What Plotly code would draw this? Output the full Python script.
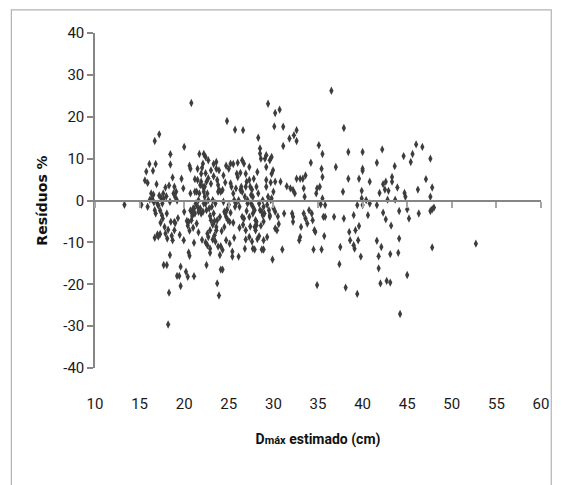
import plotly.graph_objects as go

# Dmáx estimado (cm)
dmax = [
    13.3, 15.2, 15.6, 15.75, 15.9, 16.1, 15.9, 16.15, 16.3, 16.5, 16.7, 16.8, 17.2, 16.7, 16.8, 16.55, 16.9, 16.7, 17.0, 17.35,
    17.4, 17.65, 17.55, 17.8, 17.7, 18.05, 17.9, 18.1, 18.2, 18.3, 18.4, 18.45, 18.45, 18.3, 17.9, 18.05, 18.4, 18.5, 18.7, 18.8,
    18.9, 18.9, 19.1, 19.2, 18.7, 19.2, 19.45, 19.6, 19.6, 19.7, 19.9, 19.95, 20.0, 20.0, 20.2, 20.4, 20.5, 20.6, 20.5, 20.6,
    20.8, 20.6, 20.7, 21.1, 21.1, 20.9, 21.1, 21.3, 21.2, 21.5, 21.7, 21.9, 22.1, 22.2, 22.4, 22.5, 22.6, 22.6, 22.7, 22.9,
    22.9, 23.2, 23.4, 23.6, 23.7, 23.9, 24.0, 24.1, 24.3, 24.1, 24.3, 23.6, 23.6, 23.9, 23.3, 24.7, 24.8, 25.0, 25.2, 25.5,
    24.7, 25.1, 25.4, 25.4, 26.1, 25.7, 26.6, 26.5, 26.7, 26.9, 27.3, 26.8, 26.9, 26.9, 27.3, 27.7, 27.9, 28.3, 28.5, 28.5,
    28.6, 28.7, 28.9, 28.9, 29.05, 29.2, 29.2, 29.4, 29.6, 29.8, 29.8, 29.96, 29.9, 29.3, 30.1, 30.2, 30.7, 31.1, 31.1, 31.0,
    30.2, 30.4, 30.6, 30.8, 30.2, 30.2, 31.2, 31.5, 31.8, 32.3, 32.6, 32.6, 31.9, 32.2, 32.1, 32.2, 32.2, 32.4, 32.6, 33.0,
    33.3, 33.6, 32.9, 33.0, 33.1, 33.4, 33.5, 33.4, 33.6, 33.8, 34.0, 34.2, 34.3, 34.4, 34.5, 34.6, 34.7, 34.8, 34.9, 34.9,
    35.1, 35.2, 35.3, 35.4, 35.4, 35.5, 35.5, 35.5, 35.7, 35.6, 35.8, 35.8, 36.5, 36.8, 37.0, 37.4, 37.5, 37.8, 37.9, 37.9,
    38.1, 38.4, 38.4, 38.5, 38.6, 39.0, 39.0, 39.1, 39.2, 39.4, 39.4, 39.5, 39.6, 39.6, 39.8, 39.9, 39.9, 40.0, 40.0, 40.0,
    40.0, 40.4, 40.6, 40.8, 40.8, 41.6, 41.6, 41.6, 41.8, 41.8, 41.9, 42.0, 42.1, 42.2, 42.3, 42.3, 42.5, 42.6, 42.6, 42.7,
    42.8, 42.9, 43.1, 43.1, 43.2, 43.3, 43.3, 43.6, 43.65, 43.9, 44.0, 44.1, 44.1, 44.2, 44.6, 44.7, 44.8, 45.0, 45.0, 45.2,
    45.4, 45.6, 46.0, 46.2, 46.3, 46.7, 47.1, 47.6, 47.6, 47.8, 47.6, 47.8, 48.0, 47.8, 52.7,
    21.5, 21.6, 21.7, 21.8, 21.9, 22.1, 22.2, 22.3, 22.4, 22.5, 21.8, 21.9, 22.1, 22.2, 22.3, 22.5, 22.6, 22.7, 22.8, 22.9,
    23.0, 23.1, 23.2, 23.3, 23.4, 23.5, 23.6, 23.7, 23.8, 23.9, 24.1, 24.3, 23.7, 23.8,
    20.7, 20.8, 20.9, 21.0, 21.2, 21.4,
    24.4, 24.5, 24.6, 24.7, 24.9, 25.1, 25.2, 25.3, 25.5, 25.6, 25.7, 25.8, 25.9, 26.0, 26.1, 26.2, 26.3, 26.4, 26.5, 26.5,
    26.7, 26.8, 26.9, 27.0, 27.1, 27.1, 27.3, 27.4, 27.5, 27.3,
    27.5, 27.7, 27.7, 27.9, 28.0, 28.1, 28.1, 27.7, 27.9, 28.0, 28.1, 28.3, 28.4, 28.5, 28.7, 28.8, 28.8, 28.9, 29.0, 29.2,
    29.2, 29.4, 29.6, 29.6, 29.7, 29.8, 30.0,
    17.1, 17.3, 17.5, 17.2, 16.4, 16.6, 17.0, 17.6, 18.2, 18.6, 19.0, 19.3, 19.5, 17.7, 18.0, 18.9, 19.0, 17.3, 17.1,
    20.3, 20.4, 20.7, 21.0, 21.4, 21.6, 21.2, 21.5, 22.0, 22.4, 22.7, 23.0, 23.3, 23.0, 22.7, 22.9, 23.5, 23.8, 22.4, 22.0,
    21.6, 23.2, 24.0, 24.2, 24.5, 24.8, 25.0, 25.2, 25.5, 25.8, 26.0, 26.3, 26.6, 27.0, 27.6, 27.8, 28.2, 28.4, 28.6, 28.9,
    29.3, 29.5, 29.7, 30.0, 30.5, 24.6, 24.4, 25.6, 26.2, 27.4, 27.6, 28.2,
]

# Resíduos %
residuos = [
    -1, -1, 4.8, 6.9, 4.2, 8.7, -1.5, 0.2, 1.7, 7.1, 14.2, 8.7, 15.8, -2.3, -3.1, 1.4, 3.9, -8.9, -8.1, -5.3,
    0.7, 1.7, -0.7, -6.3, -15.4, -15.4, -7.9, -9.1, -29.6, -22.0, -13.0, 11.05, 8.6, 3.6, 3.1, -3.1, -0.3, -5.1, 5.5, 1.7,
    -5.1, -7.1, 2.1, 0.0, -9.5, -18.0, -18.0, -15.8, -20.4, 5.2, 2.9, -9.5, -2.7, 12.8, -17.0, -18.2, -12.4, -13.2, -5.1, -7.2,
    23.3, 8.3, 7.6, -18.1, -10.1, -3.1, -1.9, -0.7, 2.1, 4.9, 11.1, 6.4, 8.8, 11.1, 10.4, -15.4, -10.7, -7.9, -8.7, -7.1,
    -11.5, -9.3, -8.3, -7.1, -19.8, -22.7, -13.0, -16.5, -16.5, -10.9, -11.8, 9.2, 7.6, 7.2, 8.7, 8.3, 19.0, 7.6, 8.8, 8.7,
    -9.5, -10.3, -12.2, -13.4, -13.4, 16.9, 16.8, 9.6, 8.8, 6.4, 8.0, -11.5, -7.1, -9.3, -8.7, -11.5, -11.7, 15.0, 12.4, 11.2,
    10.0, -11.7, -11.7, -9.5, 10.0, 10.8, 8.0, 23.1, 9.6, 10.4, 6.4, 7.2, -14.1, -8.7, 17.7, 20.9, 21.7, 17.6, 13.0, -11.7,
    -6.7, -7.1, -5.6, 4.5, 4.5, -2.7, -3.1, 3.4, 14.8, 15.6, 16.8, 14.2, 2.9, 2.5, -3.1, -3.9, -5.1, 1.7, 5.2, 5.2,
    5.2, 6.0, -9.5, -8.7, -6.3, 2.9, 0.9, -3.1, -4.3, -5.5, -2.3, 9.0, -3.1, -4.7, -11.7, -7.1, -7.5, 1.7, 2.9, -20.2,
    13.2, 3.3, -0.9, -11.7, 7.6, 11.1, 5.6, 0.5, -8.5, -3.9, -3.9, -1.1, 26.2, -3.9, 8.0, -15.2, -11.1, 2.1, 17.3, -4.3,
    -20.8, 11.6, 5.2, -7.5, -9.5, -3.5, -10.7, -11.5, -7.1, -1.1, -22.3, -9.5, 5.2, -6.1, -13.4, 0.5, 2.3, 7.6, 7.1, 11.6,
    -1.1, 0.1, -3.5, -0.7, 4.5, -1.1, -9.6, 9.0, -16.2, -13.3, 1.8, -19.8, -11.1, 12.2, 3.9, -2.9, 2.6, -4.5, 4.5, -19.2,
    0.2, 2.3, -19.6, -12.8, -6.0, 5.6, 4.5, 8.2, 0.2, 3.1, -12.5, -9.1, -2.5, -27.1, 10.6, 1.8, 0.9, -17.8, -2.1, -4.3,
    9.2, 11.1, 13.4, 2.6, -3.1, 12.8, 5.1, 10.0, 0.9, 3.1, -2.5, -2.1, -1.7, -11.2, -10.3,
    -1.5, 0.1, 1.7, 3.7, 4.5, 3.3, 2.1, 0.9, -0.7, -2.3, -1.9, -3.1, -2.7, -0.7, 3.3, 4.5, 1.7, 0.1, -1.9, -3.7,
    -4.7, -1.5, 0.1, -3.1, -4.9, -0.7, -6.3, -4.7, 2.1, 2.5, 2.1, 2.5, 4.9, 3.7,
    1.7, -4.7, -3.7, -1.9, -3.1, 2.1,
    -0.3, -2.7, -3.1, -3.9, -4.7, -5.1, 4.1, 3.3, 1.7, 0.1, -1.5, -0.7, 6.4, 5.6, 0.1, -1.5, 2.5, 3.3, 2.1, -3.9,
    -4.3, 0.9, 3.3, 4.5, 0.1, -0.7, 4.9, 3.3, 1.3, -3.9,
    -0.7, 0.9, -1.5, -2.3, -4.7, -5.1, -5.9, -3.1, -6.3, -7.1, 3.3, 1.7, -0.7, -2.3, -2.7, -3.5, 0.1, -1.5, -3.1, 3.3,
    4.9, 0.9, -3.5, -3.9, 0.1, 0.5, 2.1,
    -1.2, -2.4, -3.5, 1.2, 0.5, -0.4, -0.8, -4.3, -7.0, -8.4, -5.4, -4.2, -8.2, 0.4, 1.0, 3.3, 0.8, -8.0, -8.6,
    -4.9, -6.0, -2.4, -6.5, -5.5, -2.7, 5.1, 7.6, 7.8, 6.5, 5.3, 4.0, 5.8, 7.2, 9.6, -12.5, -9.8, -11.0, -10.0, -9.4,
    -7.6, -5.8, -3.9, -7.3, -6.3, -2.2, -1.0, -2.9, -5.3, 2.9, 9.0, 6.6, -5.8, -2.5, 2.6, 5.2, 6.8, -8.5, -6.0, -5.0,
    -1.0, -2.3, 4.3, -1.8, -3.8, 4.3, 6.0, -8.9, -6.5, -6.2, -9.8, -9.2,
]

x_ticks = [10, 15, 20, 25, 30, 35, 40, 45, 50, 55, 60]
y_ticks = [-40, -30, -20, -10, 0, 10, 20, 30, 40]

axis_grey = "#868686"
tick_font = dict(family="Liberation Sans Narrow, Roboto, Open Sans, sans-serif", size=15, color="#1a1a1a")

fig = go.Figure()
fig.add_trace(go.Scatter(
    x=dmax, y=residuos, mode="markers",
    marker=dict(symbol="diamond-tall", size=6, color="#3d3d3d", line=dict(width=0)),
    showlegend=False, xaxis="x", yaxis="y",
))
# invisible trace on overlay axis so the zero line axis is drawn
fig.add_trace(go.Scatter(x=[x_ticks[0]], y=[0], mode="markers", marker=dict(opacity=0),
                         showlegend=False, hoverinfo="skip", xaxis="x2", yaxis="y"))

fig.update_layout(
    width=561, height=485,
    margin=dict(l=95, r=15, t=33, b=117),
    paper_bgcolor="white", plot_bgcolor="white",
    xaxis=dict(
        range=[10, 60], tickvals=x_ticks, ticktext=[str(v) for v in x_ticks],
        showgrid=False, zeroline=False, showline=False,
        ticks="outside", ticklen=22, tickcolor="rgba(0,0,0,0)",
        tickfont=tick_font,
        title=dict(text="<b>D<span style='font-size:11px'>máx</span> estimado (cm)</b>",
                   font=dict(family="Liberation Sans Narrow, Roboto, Open Sans, sans-serif", size=14, color="#111111"),
                   standoff=22),
    ),
    xaxis2=dict(
        range=[10, 60], overlaying="x", anchor="free", position=0.5, side="bottom",
        tickvals=x_ticks, showticklabels=False, showgrid=False, zeroline=False,
        showline=True, linecolor=axis_grey, linewidth=2,
        ticks="outside", ticklen=6, tickwidth=1.5, tickcolor="#a6a6a6",
    ),
    yaxis=dict(
        range=[-40, 40], tickvals=y_ticks, ticktext=[str(v) for v in y_ticks],
        showgrid=False, zeroline=False, showline=True, linecolor=axis_grey, linewidth=1.5,
        ticks="outside", ticklen=6, tickwidth=1.5, tickcolor=axis_grey,
        tickfont=tick_font,
        title=dict(text="<b>Resíduos %</b>",
                   font=dict(family="DejaVu Sans, Arial, sans-serif", size=14, color="#111111"),
                   standoff=12),
    ),
    shapes=[dict(type="rect", xref="paper", yref="paper",
                 x0=-0.1875, x1=1.023, y0=-0.38, y1=1.069,
                 line=dict(color="#b3b3b3", width=1.2), fillcolor="rgba(0,0,0,0)", layer="below")],
)

fig.write_html("out.html")
